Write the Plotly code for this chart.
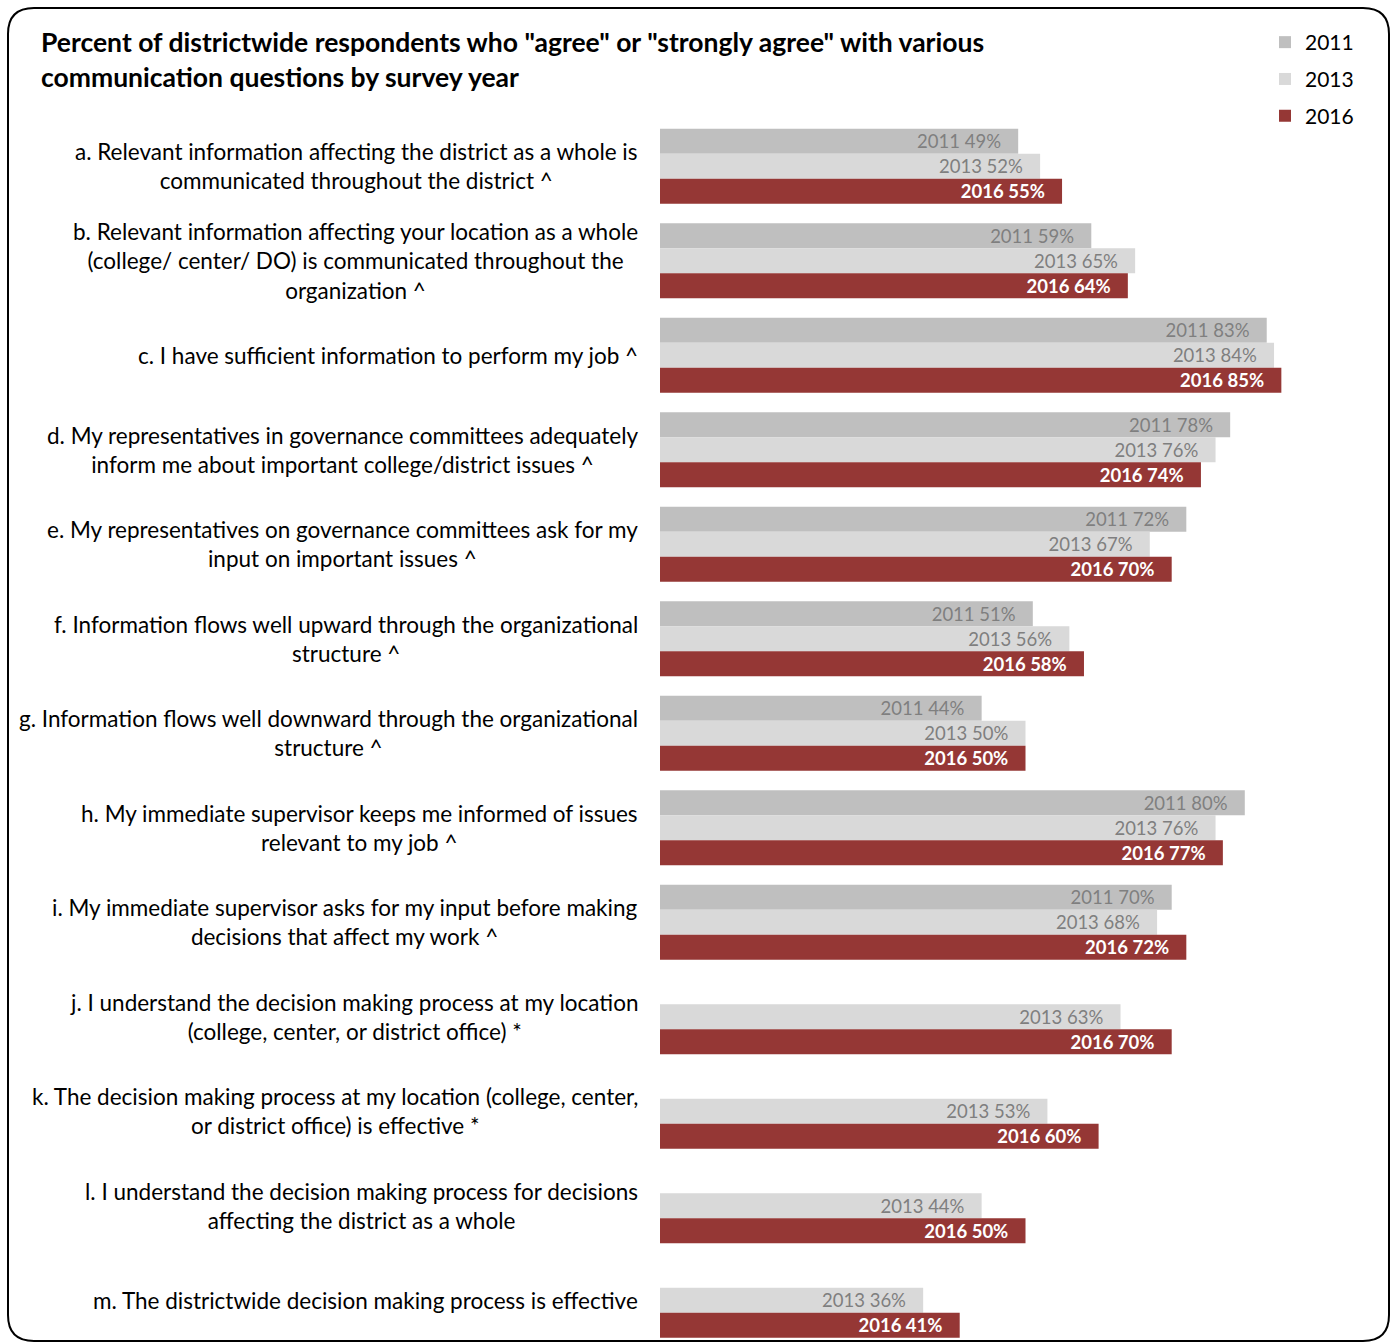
import plotly.graph_objects as go

# ---------------- data ----------------
labels = [
    "a. Relevant information affecting the district as a whole is<br>communicated throughout the district ^",
    "b. Relevant information affecting your location as a whole<br>(college/ center/ DO) is communicated throughout the<br>organization ^",
    "c. I have sufficient information to perform my job ^",
    "d. My representatives in governance committees adequately<br>inform me about important college/district issues ^",
    "e. My representatives on governance committees ask for my<br>input on important issues ^",
    "f. Information flows well upward through the organizational<br>structure ^",
    "g. Information flows well downward through the organizational<br>structure ^",
    "h. My immediate supervisor keeps me informed of issues<br>relevant to my job ^",
    "i. My immediate supervisor asks for my input before making<br>decisions that affect my work ^",
    "j. I understand the decision making process at my location<br>(college, center, or district office) *",
    "k. The decision making process at my location (college, center,<br>or district office) is effective *",
    "l. I understand the decision making process for decisions<br>affecting the district as a whole",
    "m. The districtwide decision making process is effective",
]
years = ["2011", "2013", "2016"]
v2011 = [49, 59, 83, 78, 72, 51, 44, 80, 70, None, None, None, None]
v2013 = [52, 65, 84, 76, 67, 56, 50, 76, 68, 63, 53, 44, 36]
v2016 = [55, 64, 85, 74, 70, 58, 50, 77, 72, 70, 60, 50, 41]
title_lines = [
    'Percent of districtwide respondents who "agree" or "strongly agree" with various',
    'communication questions by survey year',
]

# ---------------- layout geometry ----------------
W, H = 1391, 1342
ML, MR, MT, MB = 660, 0, 119, 0
PW, PH = W - ML - MR, H - MT - MB
UNIT = 94.5  # px per category
FONT = "Lato"


def px2x(px):  # page px -> paper x
    return (px - ML) / PW


def py2y(py):  # page px -> paper y
    return (H - MB - py) / PH


pos = list(range(len(labels)))
fig = go.Figure()

series = [
    (years[0], v2011, "#BFBFBF", "#7F7F7F", False),
    (years[1], v2013, "#D9D9D9", "#7F7F7F", False),
    (years[2], v2016, "#953735", "#FFFFFF", True),
]
pad = "\u00a0" * 3
for name, vals, color, tcolor, bold in series:
    txt = []
    for v in vals:
        if v is None:
            txt.append("")
        else:
            t = f"{name} {v}%"
            txt.append(f"<b>{t}</b>{pad}" if bold else f"{t}{pad}")
    fig.add_trace(go.Bar(
        y=pos, x=vals, orientation="h", name=name,
        marker=dict(color=color, line=dict(width=0)),
        text=txt, textposition="inside", insidetextanchor="end",
        textangle=0, constraintext="none",
        textfont=dict(color=tcolor, size=18.5, family=FONT),
        legendgroup=name, hoverinfo="skip",
    ))

annotations = []
for i, lab in enumerate(labels):
    annotations.append(dict(
        x=px2x(640), xref="paper", y=i, yref="y",
        xanchor="right", yanchor="middle", align="center",
        text=lab, showarrow=False,
        font=dict(family=FONT, size=22.5, color="#000000"),
    ))
for k, line in enumerate(title_lines):
    annotations.append(dict(
        x=px2x(39), xref="paper", y=py2y(42 + 35 * k), yref="paper",
        xanchor="left", yanchor="middle", align="left",
        text=f"<b>{line}</b>", showarrow=False,
        font=dict(family=FONT, size=26.5, color="#000000"),
    ))

# rounded border (page px)
x0, x1, y0, y1, r = 8, 1389, 8, 1341, 26
path = (
    f"M {px2x(x0 + r)},{py2y(y0)} L {px2x(x1 - r)},{py2y(y0)} "
    f"Q {px2x(x1)},{py2y(y0)} {px2x(x1)},{py2y(y0 + r)} "
    f"L {px2x(x1)},{py2y(y1 - r)} "
    f"Q {px2x(x1)},{py2y(y1)} {px2x(x1 - r)},{py2y(y1)} "
    f"L {px2x(x0 + r)},{py2y(y1)} "
    f"Q {px2x(x0)},{py2y(y1)} {px2x(x0)},{py2y(y1 - r)} "
    f"L {px2x(x0)},{py2y(y0 + r)} "
    f"Q {px2x(x0)},{py2y(y0)} {px2x(x0 + r)},{py2y(y0)} Z"
)

fig.update_layout(
    width=W, height=H,
    margin=dict(l=ML, r=MR, t=MT, b=MB, pad=0),
    paper_bgcolor="white", plot_bgcolor="white",
    barmode="group", bargap=0.2063, bargroupgap=0,
    xaxis=dict(range=[0, 100], visible=False, fixedrange=True),
    yaxis=dict(range=[-0.5 + PH / UNIT, -0.5], visible=False, fixedrange=True),
    showlegend=True,
    legend=dict(
        x=px2x(1265), y=py2y(22), xanchor="left", yanchor="top",
        xref="paper", yref="paper",
        traceorder="grouped", tracegroupgap=6.5,
        font=dict(family=FONT, size=21, color="#000000"),
        bgcolor="rgba(0,0,0,0)", itemclick=False, itemdoubleclick=False,
    ),
    annotations=annotations,
    shapes=[dict(type="path", path=path, xref="paper", yref="paper",
                 line=dict(color="#000000", width=2), fillcolor="rgba(0,0,0,0)",
                 layer="above")],
    font=dict(family=FONT),
)

fig.write_html(
    "out.html",
    config={"displayModeBar": False},
    post_script="document.body.style.margin='0';document.body.style.overflow='hidden';",
)
